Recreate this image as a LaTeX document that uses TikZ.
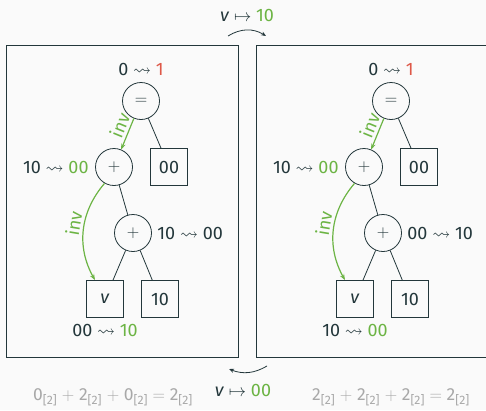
\documentclass[tikz,border=0pt]{standalone}
\usepackage{amssymb}
\usepackage{fontspec}
\setmainfont{Fira Sans}
\usetikzlibrary{arrows.meta,positioning}
\definecolor{fg}{RGB}{35,55,59}
\definecolor{okgreen}{RGB}{108,180,68}
\definecolor{badred}{RGB}{222,88,72}
\definecolor{pagebg}{RGB}{250,250,250}
\definecolor{softgray}{RGB}{168,168,168}
\newcommand{\becomes}{~$\rightsquigarrow$~}
\newcommand{\modtwo}[1]{#1\textsubscript{[2]}}

\begin{document}
\begin{tikzpicture}[
    x=1pt,y=-1pt,
    every node/.style={font=\fontsize{18}{21}\selectfont,text=fg},
    op/.style={circle,draw=fg,line width=0.8pt,minimum size=37pt,inner sep=0pt},
    leaf/.style={draw=fg,line width=0.8pt,minimum size=37pt,inner sep=0pt},
    link/.style={fg,line width=0.8pt},
    invarrow/.style={okgreen,line width=1.2pt,-{Stealth[length=6pt,width=4.5pt]}},
    invlabel/.style={text=okgreen,font=\fontsize{18}{21}\selectfont,inner sep=3pt},
    sumtext/.style={text=softgray,font=\fontsize{17.5}{21}\selectfont},
    frame/.style={draw=fg,line width=1pt,minimum width=232pt,minimum height=312pt},
    swap/.style={fg,line width=0.8pt,-{Stealth[length=5pt,width=4pt]}}]
    \def\shiftR{250}

    \fill[pagebg] (0,0) rectangle (486,410);
    \useasboundingbox (0,0) rectangle (486,410);

    \node[frame] (frameL) at (122,201) {};
    \node[frame] (frameR) at (372,201) {};

    \coordinate (topA) at (228,36);
    \coordinate (topB) at (266,36);
    \coordinate (botA) at (267,366);
    \coordinate (botB) at (229,369);
    \draw[swap] (topA) to[bend left=32] (topB);
    \draw[swap] (botA) to[bend left=26] (botB);
    \node (mapTop) at (247,15) {\textit{v}~$\mapsto$~\textcolor{okgreen}{10}};
    \node (mapBot) at (243,390) {\textit{v}~$\mapsto$~\textcolor{okgreen}{00}};

    % left tree
    \node[op] (eqL) at (141,101) {$=$};
    \node[op] (plusAL) at (114,167) {$+$};
    \node[leaf] (zeroL) at (169,167) {00};
    \node[op] (plusBL) at (133,233) {$+$};
    \node[leaf] (varL) at (105,299) {\textit{v}};
    \node[leaf] (tenL) at (160,299) {10};
    \node[above=3pt of eqL] (resEqL) {0\becomes\textcolor{badred}{1}};
    \node[left=3pt of plusAL] (resAL) {10\becomes\textcolor{okgreen}{00}};
    \node[right=2pt of plusBL] (resBL) {10\becomes 00};
    \node[below=3pt of varL] (resVL) {00\becomes\textcolor{okgreen}{10}};
    \draw[link] (eqL) -- (zeroL);
    \draw[link] (plusAL) -- (plusBL);
    \draw[link] (plusBL) -- (varL);
    \draw[link] (plusBL) -- (tenL);
    \draw[invarrow] (eqL) -- node[invlabel,pos=0.35,sloped,above] {inv} (plusAL);
    \draw[invarrow] (plusAL.-120) to[bend right=35]
        node[invlabel,pos=0.45,sloped,above] {inv} ([xshift=-10pt]varL.north);
    \node[sumtext] (sumL) at (113,397) {\modtwo{0} $+$ \modtwo{2} $+$ \modtwo{0} $=$ \modtwo{2}};

    % right tree
    \begin{scope}[xshift=\shiftR]
    \node[op] (eqR) at (141,101) {$=$};
    \node[op] (plusAR) at (114,167) {$+$};
    \node[leaf] (zeroR) at (169,167) {00};
    \node[op] (plusBR) at (133,233) {$+$};
    \node[leaf] (varR) at (105,299) {\textit{v}};
    \node[leaf] (tenR) at (160,299) {10};
    \node[above=3pt of eqR] (resEqR) {0\becomes\textcolor{badred}{1}};
    \node[left=3pt of plusAR] (resAR) {10\becomes\textcolor{okgreen}{00}};
    \node[right=2pt of plusBR] (resBR) {00\becomes 10};
    \node[below=3pt of varR] (resVR) {10\becomes\textcolor{okgreen}{00}};
    \draw[link] (eqR) -- (zeroR);
    \draw[link] (plusAR) -- (plusBR);
    \draw[link] (plusBR) -- (varR);
    \draw[link] (plusBR) -- (tenR);
    \draw[invarrow] (eqR) -- node[invlabel,pos=0.35,sloped,above] {inv} (plusAR);
    \draw[invarrow] (plusAR.-120) to[bend right=35]
        node[invlabel,pos=0.45,sloped,above] {inv} ([xshift=-10pt]varR.north);
    \node[sumtext] (sumR) at (141,397) {\modtwo{2} $+$ \modtwo{2} $+$ \modtwo{2} $=$ \modtwo{2}};
    \end{scope}
\end{tikzpicture}
\end{document}
